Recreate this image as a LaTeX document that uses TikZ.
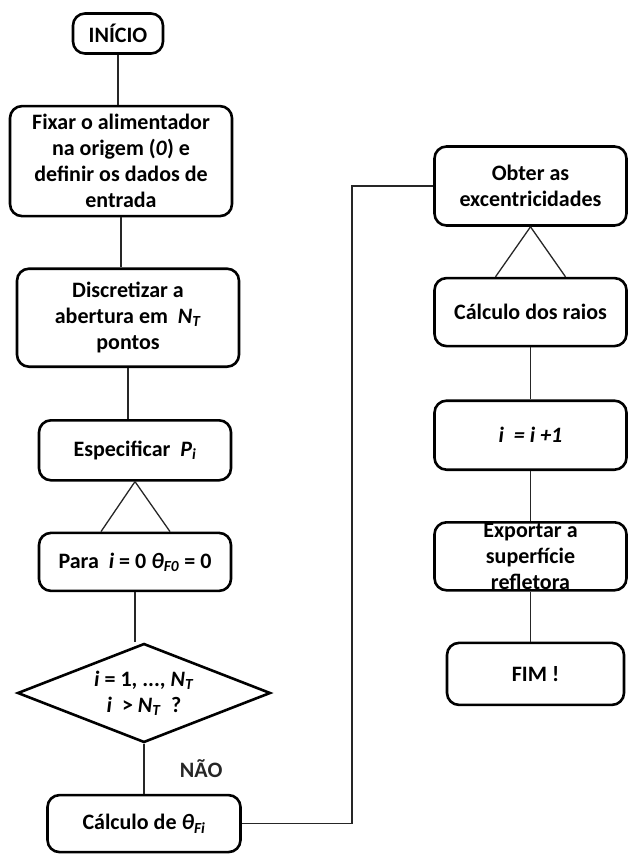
\documentclass[tikz,border=0pt]{standalone}
\usepackage{fontspec}
\setmainfont{Carlito}
\usetikzlibrary{positioning, shapes.geometric}

\begin{document}
\begin{tikzpicture}[
    x=1pt, y=1pt,
    node distance=50pt,
    caixa/.style={rectangle, rounded corners=12pt, draw, line width=2.6pt,
                  align=center, minimum width=192pt, inner xsep=4pt, inner ysep=0pt,
                  font=\fontsize{22}{26}\selectfont\bfseries},
    losango/.style={diamond, draw, line width=2.6pt, aspect=2.5, inner sep=0pt,
                    minimum width=253pt, minimum height=99pt, align=center,
                    font=\fontsize{22}{26}\selectfont\bfseries},
    linha/.style={line width=1.3pt, black!85},
    rotulo/.style={font=\fontsize{22}{26}\selectfont\bfseries}
]
\useasboundingbox (0,0) rectangle (630,-857);

% Coluna da esquerda
\node[caixa, minimum width=90pt, minimum height=40pt] (inicio) at (118,-33.5) {INÍCIO};
\node[caixa, minimum width=222pt, minimum height=110pt, below=of inicio, xshift=3pt] (fixar)
     {Fixar o alimentador\\na origem (\textit{0}) e\\definir os dados de\\entrada};
\node[caixa, minimum width=222pt, minimum height=98pt, below=of fixar, xshift=7pt] (discret)
     {Discretizar a\\abertura em \ \textit{N}\textsubscript{\textit{T}}\\pontos};
\node[caixa, minimum height=60pt, below=51pt of discret, xshift=7pt] (espec)
     {Especificar \ \textit{P}\textsubscript{\textit{i}}};
\node[caixa, minimum height=58pt, below=of espec] (para)
     {Para \ \textit{i} = 0 \textit{θ}\textsubscript{\textit{F0}} = 0};
\node[losango, below=of para, xshift=9pt] (decisao)
     {\textit{i} = 1, ..., \textit{N}\textsubscript{\textit{T}}\\\textit{i} \ > \textit{N}\textsubscript{\textit{T}} \ ?};
\node[caixa, minimum width=193pt, minimum height=57pt, below=of decisao] (calcf)
     {Cálculo de \textit{θ}\textsubscript{\textit{Fi}}};

% Coluna da direita
\node[caixa, minimum height=79pt] (obter) at (530.5,-186) {Obter as\\excentricidades};
\node[caixa, minimum height=68pt, below=of obter] (raios) {Cálculo dos raios};
\node[caixa, minimum height=69pt, below=52pt of raios] (incr) {\textit{i \ = i +1}};
\node[caixa, minimum height=68pt, below=of incr] (exportar) {Exportar a\\superfície\\refletora};
\node[caixa, minimum width=177pt, minimum height=62pt, below=of exportar, xshift=5pt] (fim) {FIM !};

% Ligacoes
\draw[linha] (inicio.south) -- (inicio.south |- fixar.north);
\draw[linha] (fixar.south) -- (fixar.south |- discret.north);
\draw[linha] (discret.south) -- (discret.south |- espec.north);
\draw[linha] (espec.south) -- ([xshift=-34pt]para.north);
\draw[linha] (espec.south) -- ([xshift=35pt]para.north);
\draw[linha] (para.south) -- (para.south |- decisao.north);
\draw[linha] (decisao) -- node[rotulo, right=32pt] {NÃO} (calcf);

% Volta para a outra coluna
\coordinate (volta) at (352,-500);
\draw[linha] (calcf.east) -| (volta) |- (obter.west);

\draw[linha] (obter.south) -- ([xshift=-35pt]raios.north);
\draw[linha] (obter.south) -- ([xshift=35pt]raios.north);
\draw[linha] (raios) -- (incr);
\draw[linha] (incr) -- (exportar);
\draw[linha] (exportar.south) -- (exportar.south |- fim.north);

\end{tikzpicture}
\end{document}
